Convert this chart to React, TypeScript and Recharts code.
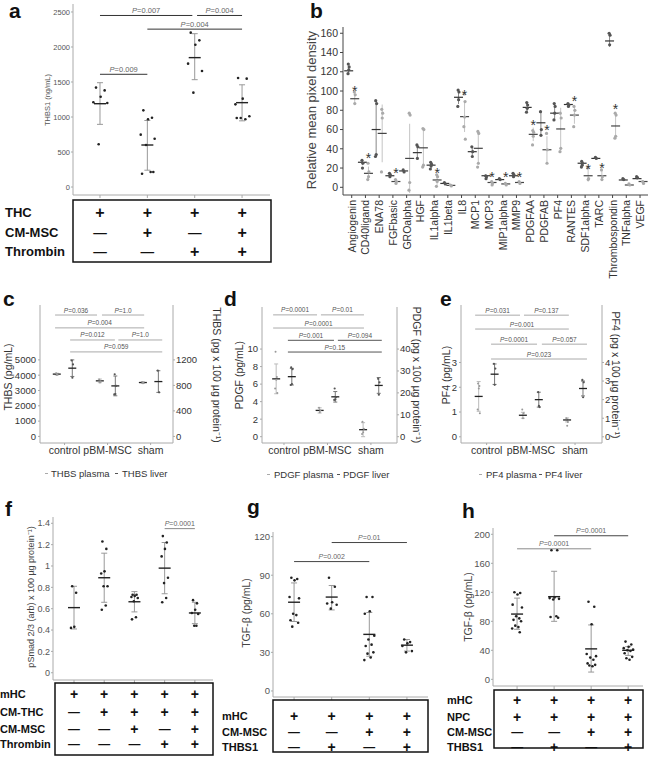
import React from 'react'
import { ComposedChart, Scatter, XAxis, YAxis, ErrorBar, ReferenceLine } from 'recharts'

const FONT = '"Liberation Sans", Arial, Helvetica, sans-serif'

// jitter pattern for dot plots (horizontal spread only)
const JITTER = [-0.12, 0.14, 0.02, -0.2, 0.22, -0.04, 0.1, -0.16, 0.18, -0.08, 0.06, -0.22, 0.12]

// ---- panel a: THBS1 (ng/mL)
const aPts = [
  [1420, 1380, 1290, 1210, 1200, 610],
  [1095, 990, 967, 748, 690, 600, 214, 190, 214],
  [2205, 2095, 2033, 1762, 1657, 1348],
  [1557, 1548, 1262, 1181, 1010, 986, 967, 986],
]
const aMean = [1190, 600, 1848, 1205]
const aSD = [[895, 1490], [240, 950], [1533, 2190], [945, 1460]]
const aTicks = [0, 500, 1000, 1500, 2000, 2500]
const aSig = [
  { a: 1, b: 2.95, y: 2450, p: '0.007' },
  { a: 3.05, b: 4, y: 2450, p: '0.004' },
  { a: 2, b: 4, y: 2255, p: '0.004' },
  { a: 1, b: 2, y: 1610, p: '0.009' },
]
const aRowLabels = ['THC', 'CM-MSC', 'Thrombin']
const aRowSigns = ['++++', '-+-+', '--++']

// ---- panel b: cytokine array
const bNames = ['Angiogenin', 'CD40ligand', 'ENA78', 'FGFbasic', 'GROalpha', 'HGF', 'IL1alpha', 'IL1beta', 'IL8', 'MCP1', 'MCP3',
  'MIP1alpha', 'MMP9', 'PDGFAA', 'PDGFAB', 'PF4', 'RANTES', 'SDF1alpha', 'TARC', 'Thrombospondin', 'TNFalpha', 'VEGF']
const bDarkPts = [[128, 125, 122, 118], [28, 25, 20], [90, 87, 34, 32], [14.5, 13, 11], [18, 16], [44, 42, 30], [26, 24, 22, 19],
  [5, 3.5], [101, 99, 91, 84], [42, 37, 32], [12, 11, 9], [9, 8], [14.5, 13, 11], [88, 85.5, 82, 78], [78.6, 60, 54],
  [87, 84, 77, 70], [87, 85.5, 84], [27, 25, 23, 21], [31, 30], [160, 158, 148], [9, 8], [11, 10]]
const bDarkMean = [121, 26, 60, 12, 17, 36, 23, 4, 93.5, 37, 12, 8, 12, 83, 67, 77, 86, 25, 30, 152, 7.6, 9]
const bDarkSD = [4, 3, 28, 1.5, 1, 6, 3, 1, 7, 4, 1.5, 1, 1.5, 4, 12, 7, 1.5, 2.5, 0.8, 6, 1, 1]
const bLightPts = [[99, 96, 87], [25, 16, 11, 8], [81, 77, 72, 16], [8, 6, 4], [77, 75, 5, -3], [61, 60, 23, 21], [13, 11, 6, 1],
  [2.4, 1.4], [97, 89, 73, 63, 50], [58, 56, 25, 21], [6, 4, 2.4], [4, 2.4], [6, 4], [59, 57, 53, 44], [56, 39, 25],
  [77, 72, 40.5, 37], [84, 80, 75, 63], [20, 9, 8], [18, 11, 8], [77, 75, 53, 51], [3.5, 2.4], [6, 4]]
const bLightMean = [92, 14.5, 56, 6, 30, 41, 7.6, 2, 73.4, 40.5, 5, 3.5, 5, 55, 39, 60.6, 75, 12, 12, 63.7, 2.4, 6]
const bLightSD = [6, 7, 30, 1.5, 36, 18, 5, 0.7, 16, 17, 2, 1, 1.5, 7, 14, 22, 9, 6, 5, 12, 0.7, 1.5]
const bStarY = [103, 34, null, 18, null, null, 18, null, 99, null, 14, 14, 14, 68, 63, null, 93, 22, 23, 84, null, null]
const bTicks = [0, 20, 40, 60, 80, 100, 120, 140, 160]

// ---- panels c-e: plasma (left axis) and liver (right axis)
const groupNames = ['control', 'pBM-MSC', 'sham']

const cPlasmaPts = [[4120, 4060, 4020], [3720, 3600, 3520], [3560, 3500, 3480]]
const cPlasmaMean = [4070, 3630, 3520]
const cPlasmaSD = [60, 120, 50]
const cLiverPts = [[1190, 1128, 920], [975, 792, 665, 658], [1032, 691]]
const cLiverMean = [1070, 792, 860]
const cLiverSD = [130, 155, 170]
const cSig = [
  { a: 0.78, b: 1.755, y: 7930, p: '0.036' },
  { a: 1.87, b: 2.85, y: 7930, p: '1.0' },
  { a: 0.78, b: 2.85, y: 7090, p: '0.004' },
  { a: 1.13, b: 2.17, y: 6300, p: '0.012' },
  { a: 2.25, b: 3.27, y: 6300, p: '1.0' },
  { a: 1.13, b: 3.27, y: 5520, p: '0.059' },
]

const dPlasmaPts = [[9.7, 6.8, 6.5, 5.5, 5.0], [3.3, 3.0, 2.8], [1.7, 0.9, 0.5, 0.3]]
const dPlasmaMean = [6.6, 3.0, 0.8]
const dPlasmaSD = [1.7, 0.3, 0.8]
const dLiverPts = [[31.6, 30.8, 24, 23.6], [22, 18, 17, 16.8], [26.4, 24.8, 19.2]]
const dLiverMean = [27.4, 18.2, 23.4]
const dLiverSD = [3.8, 2.4, 3.6]
const dSig = [
  { a: 0.75, b: 1.76, y: 13.9, p: '0.0001' },
  { a: 1.85, b: 2.84, y: 13.9, p: '0.01' },
  { a: 0.75, b: 2.84, y: 12.4, p: '0.0001' },
  { a: 1.09, b: 2.15, y: 11.0, p: '0.001', dark: true },
  { a: 2.24, b: 3.25, y: 11.0, p: '0.094', dark: true },
  { a: 1.09, b: 3.25, y: 9.66, p: '0.15', dark: true },
]

const ePlasmaPts = [[2.15, 2.05, 1.95, 1.1, 0.95], [1.1, 0.95, 0.75], [0.75, 0.6, 0.45]]
const ePlasmaMean = [1.63, 0.87, 0.68]
const ePlasmaSD = [0.6, 0.12, 0.08]
const eLiverPts = [[3.93, 3.67, 2.8], [2.4, 1.6, 1.67], [3.06, 2.93, 2.13]]
const eLiverMean = [3.37, 2.0, 2.6]
const eLiverSD = [0.55, 0.4, 0.4]
const eSig = [
  { a: 0.74, b: 1.755, y: 4.91, p: '0.031' },
  { a: 1.845, b: 2.86, y: 4.91, p: '0.137' },
  { a: 0.74, b: 2.86, y: 4.35, p: '0.001' },
  { a: 1.1, b: 2.14, y: 3.74, p: '0.0001' },
  { a: 2.25, b: 3.27, y: 3.74, p: '0.057' },
  { a: 1.1, b: 3.27, y: 3.14, p: '0.023' },
]

// ---- panel f: pSmad 2/3
const fPts = [
  [0.81, 0.75, 0.43, 0.42],
  [1.23, 1.16, 0.95, 0.93, 0.81, 0.81, 0.63, 0.59],
  [0.73, 0.73, 0.72, 0.71, 0.70, 0.67, 0.52, 0.50],
  [1.28, 1.22, 1.16, 1.09, 0.89, 0.84, 0.70, 0.66],
  [0.68, 0.65, 0.59, 0.56, 0.55, 0.44, 0.44],
]
const fMean = [0.61, 0.89, 0.665, 0.98, 0.56]
const fSD = [[0.41, 0.81], [0.66, 1.12], [0.57, 0.76], [0.74, 1.22], [0.46, 0.66]]
const fTicks = [0, 0.2, 0.4, 0.6, 0.8, 1.0, 1.2, 1.4]
const fSig = [{ a: 4, b: 5, y: 1.35, p: '0.0001' }]
const fRowLabels = ['mHC', 'CM-THC', 'CM-MSC', 'Thrombin']
const fRowSigns = ['+++++', '-++++', '--+-+', '---++']

// ---- panel g: TGF-beta
const gPts = [
  [88, 87, 86, 73, 72, 60, 59, 55, 53, 50],
  [88, 81, 69, 68, 67, 64],
  [73, 73, 62, 60, 43, 40, 36, 35, 30, 29, 26, 24],
  [40, 38, 37, 35, 31, 30],
]
const gMean = [69, 73, 44, 35.6]
const gSD = [[54, 84], [63, 82], [27, 61], [31, 40]]
const gTicks = [0, 30, 60, 90, 120]
const gSig = [
  { a: 1, b: 3, y: 100.6, p: '0.002' },
  { a: 2, b: 4, y: 115.4, p: '0.01' },
]
const gRowLabels = ['mHC', 'CM-MSC', 'THBS1']
const gRowSigns = ['++++', '--++', '-+-+']

// ---- panel h: TGF-beta with NPC
const hPts = [
  [120, 119, 117, 103, 99, 87, 84, 82, 80, 74, 72, 70, 65],
  [178, 178, 113, 112, 111, 110, 87, 86, 85],
  [107, 100, 76, 35, 32, 30, 27, 22, 20, 19, 18],
  [52, 48, 45, 43, 41, 40, 39, 36, 31, 29, 27],
]
const hMean = [90, 114, 42, 40]
const hSD = [[69, 112], [80, 149], [10, 75], [33, 45]]
const hTicks = [0, 40, 80, 120, 160, 200]
const hSig = [
  { a: 1, b: 3, y: 180, p: '0.0001', c: '#8a8a8a' },
  { a: 2, b: 4, y: 198, p: '0.0001' },
]
const hRowLabels = ['mHC', 'NPC', 'CM-MSC', 'THBS1']
const hRowSigns = ['++++', '++++', '--++', '-+-+']

type Geo = { ax: number; rx: number; top: number; bot: number; yW: number; yW2: number; xH: number; xd: [number, number] }

const geoA: Geo = { ax: 73, rx: 270, top: 4, bot: 195, yW: 30, yW2: 0, xH: 5, xd: [0.43, 4.59] }
const geoB: Geo = { ax: 343, rx: 648, top: 27, bot: 195, yW: 30, yW2: 0, xH: 100, xd: [0.366, 22.58] }
const geoC: Geo = { ax: 40, rx: 173, top: 305, bot: 443, yW: 40, yW2: 32, xH: 20, xd: [0.43, 3.52] }
const geoD: Geo = { ax: 262, rx: 397, top: 307, bot: 443, yW: 26, yW2: 26, xH: 20, xd: [0.494, 3.6] }
const geoE: Geo = { ax: 461, rx: 602, top: 305, bot: 443, yW: 20, yW2: 20, xH: 20, xd: [0.42, 3.61] }
const geoF: Geo = { ax: 53, rx: 213, top: 517, bot: 680, yW: 26, yW2: 0, xH: 5, xd: [0.305, 5.6] }
const geoG: Geo = { ax: 273, rx: 428, top: 532, bot: 697, yW: 26, yW2: 0, xH: 5, xd: [0.44, 4.56] }
const geoH: Geo = { ax: 493, rx: 643, top: 528, bot: 686, yW: 26, yW2: 0, xH: 5, xd: [0.35, 4.4] }

const px = (g: Geo, x: number) => g.ax + ((x - g.xd[0]) / (g.xd[1] - g.xd[0])) * (g.rx - g.ax)
const boxStyle = (g: Geo): React.CSSProperties => ({ position: 'absolute', left: g.ax - g.yW, top: g.top })
const chartW = (g: Geo) => g.yW + g.rx - g.ax + g.yW2
const chartH = (g: Geo) => g.bot - g.top + g.xH
const NOMARGIN = { top: 0, right: 0, bottom: 0, left: 0 }

const meanShape = (half: number, color: string, sw: number) => (p: any) =>
  <line x1={p.cx - half} x2={p.cx + half} y1={p.cy} y2={p.cy} stroke={color} strokeWidth={sw} />
const dotShape = (r: number, color: string) => (p: any) => <circle cx={p.cx} cy={p.cy} r={r} fill={color} />

function PLabel(props: any) {
  const vb = props.viewBox || { x: 0, y: 0, width: 0 }
  return (
    <text x={vb.x + (vb.width || 0) / 2} y={vb.y - 2.5} textAnchor="middle" fontSize={props.size} fill={props.color}>
      <tspan fontStyle="italic">P</tspan>={props.text}
    </text>
  )
}

function DotPanel(p: {
  geo: Geo; yd: [number, number]; yTicks: number[]; pts: number[][]; mean: number[]; sd: number[][];
  sig: any[]; spread: number; tickFont: number; sigFont: number; sigColor: string; meanHalf: number
}) {
  const centers = p.mean.map((_, i) => i + 1)
  const dots = p.pts.flatMap((grp, i) => grp.map((v, j) => ({ x: i + 1 + JITTER[j % JITTER.length] * p.spread, y: v })))
  const means = p.mean.map((m, i) => ({ x: i + 1, y: m, err: [m - p.sd[i][0], p.sd[i][1] - m] }))
  return (
    <div style={boxStyle(p.geo)}>
      <ComposedChart width={chartW(p.geo)} height={chartH(p.geo)} margin={NOMARGIN}>
        <XAxis type="number" dataKey="x" domain={p.geo.xd} ticks={centers} tickFormatter={() => ''} tickSize={3}
          stroke="#aaa" height={p.geo.xH} allowDataOverflow />
        <YAxis type="number" dataKey="y" domain={p.yd} ticks={p.yTicks} width={p.geo.yW} tickSize={2} tickMargin={1}
          stroke="#aaa" tick={{ fontSize: p.tickFont, fill: '#555' }} allowDataOverflow />
        {p.sig.map((s, i) => (
          <ReferenceLine key={'sig' + i} segment={[{ x: s.a, y: s.y }, { x: s.b, y: s.y }]} stroke={s.c || p.sigColor}
            strokeWidth={1} ifOverflow="visible" label={<PLabel text={s.p} size={p.sigFont} color="#666" />} />
        ))}
        <Scatter data={means} dataKey="y" isAnimationActive={false} shape={meanShape(p.meanHalf, '#222', 1.4)}>
          <ErrorBar dataKey="err" direction="y" width={3} stroke="#999" strokeWidth={1} isAnimationActive={false} />
        </Scatter>
        <Scatter data={dots} dataKey="y" isAnimationActive={false} shape={dotShape(1.3, '#222')} />
      </ComposedChart>
    </div>
  )
}

function BPanel() {
  const g = geoB
  const off = 0.22
  const pts = (arr: number[][], sign: number) =>
    arr.flatMap((grp, i) => grp.map((v, j) => ({ x: i + 1 + sign * off + JITTER[j % JITTER.length] * 0.25, y: v })))
  const means = (m: number[], sd: number[], sign: number) =>
    m.map((v, i) => ({ x: i + 1 + sign * off, y: v, err: sd[i] }))
  const stars = bStarY.flatMap((v, i) => (v == null ? [] : [{ x: i + 1 + off, y: v }]))
  const tick = (t: any) => (
    <text x={t.x} y={t.y} transform={`rotate(-90 ${t.x} ${t.y})`} textAnchor="end" dominantBaseline="central"
      fontSize={10.5} fill="#333">{bNames[t.payload.value - 1]}</text>
  )
  return (
    <div style={boxStyle(g)}>
      <ComposedChart width={chartW(g)} height={chartH(g)} margin={NOMARGIN}>
        <XAxis type="number" dataKey="x" domain={g.xd} ticks={bNames.map((_, i) => i + 1)} tick={tick} tickSize={3}
          stroke="#444" height={g.xH} interval={0} allowDataOverflow />
        <YAxis type="number" dataKey="y" domain={[-8, 166.5]} ticks={bTicks} width={g.yW} tickSize={3} stroke="#444"
          tick={{ fontSize: 10.5, fill: '#333' }} allowDataOverflow />
        <Scatter data={means(bDarkMean, bDarkSD, -1)} dataKey="y" isAnimationActive={false} shape={meanShape(4.5, '#333', 1.2)}>
          <ErrorBar dataKey="err" direction="y" width={0} stroke="#888" strokeWidth={1} isAnimationActive={false} />
        </Scatter>
        <Scatter data={means(bLightMean, bLightSD, 1)} dataKey="y" isAnimationActive={false} shape={meanShape(4.5, '#444', 1.2)}>
          <ErrorBar dataKey="err" direction="y" width={0} stroke="#c4c4c4" strokeWidth={1} isAnimationActive={false} />
        </Scatter>
        <Scatter data={pts(bDarkPts, -1)} dataKey="y" isAnimationActive={false} shape={dotShape(1.6, '#555')} />
        <Scatter data={pts(bLightPts, 1)} dataKey="y" isAnimationActive={false} shape={dotShape(1.6, '#aaa')} />
        <Scatter data={stars} dataKey="y" isAnimationActive={false}
          shape={(p: any) => <text x={p.cx} y={p.cy + 8} textAnchor="middle" fontSize={14} fill="#333">*</text>} />
      </ComposedChart>
    </div>
  )
}

function DualPanel(p: {
  geo: Geo; ydL: [number, number]; ydR: [number, number]; ticksL: number[]; ticksR: number[];
  plasmaPts: number[][]; plasmaMean: number[]; plasmaSD: number[];
  liverPts: number[][]; liverMean: number[]; liverSD: number[]; sig: any[]
}) {
  const off = 0.18
  const pts = (arr: number[][], sign: number) =>
    arr.flatMap((grp, i) => grp.map((v, j) => ({ x: i + 1 + sign * off + JITTER[j % JITTER.length] * 0.12, y: v })))
  const means = (m: number[], sd: number[], sign: number) => m.map((v, i) => ({ x: i + 1 + sign * off, y: v, err: sd[i] }))
  const g = p.geo
  return (
    <div style={boxStyle(g)}>
      <ComposedChart width={chartW(g)} height={chartH(g)} margin={NOMARGIN}>
        <XAxis type="number" dataKey="x" domain={g.xd} ticks={[1, 2, 3]} tickFormatter={(v: number) => groupNames[v - 1]}
          tickSize={2} stroke="#aaa" tick={{ fontSize: 10.5, fill: '#333' }} height={g.xH} interval={0} allowDataOverflow />
        <YAxis yAxisId="L" type="number" dataKey="y" domain={p.ydL} ticks={p.ticksL} width={g.yW} tickSize={2}
          tickMargin={2} stroke="#aaa" tick={{ fontSize: 9.5, fill: '#333' }} allowDataOverflow />
        <YAxis yAxisId="R" orientation="right" type="number" dataKey="y" domain={p.ydR} ticks={p.ticksR} width={g.yW2}
          tickSize={2} tickMargin={1} stroke="#aaa" tick={{ fontSize: 9.5, fill: '#333' }} allowDataOverflow />
        {p.sig.map((s, i) => (
          <ReferenceLine key={'sig' + i} yAxisId="L" segment={[{ x: s.a, y: s.y }, { x: s.b, y: s.y }]}
            stroke={s.dark ? '#555' : '#aaa'} strokeWidth={1} ifOverflow="visible"
            label={<PLabel text={s.p} size={6.5} color="#555" />} />
        ))}
        <Scatter yAxisId="L" data={means(p.plasmaMean, p.plasmaSD, -1)} dataKey="y" isAnimationActive={false}
          shape={meanShape(4, '#222', 1.3)}>
          <ErrorBar dataKey="err" direction="y" width={2} stroke="#bbb" strokeWidth={1} isAnimationActive={false} />
        </Scatter>
        <Scatter yAxisId="R" data={means(p.liverMean, p.liverSD, 1)} dataKey="y" isAnimationActive={false}
          shape={meanShape(4, '#222', 1.3)}>
          <ErrorBar dataKey="err" direction="y" width={2} stroke="#777" strokeWidth={1} isAnimationActive={false} />
        </Scatter>
        <Scatter yAxisId="L" data={pts(p.plasmaPts, -1)} dataKey="y" isAnimationActive={false} shape={dotShape(1, '#999')} />
        <Scatter yAxisId="R" data={pts(p.liverPts, 1)} dataKey="y" isAnimationActive={false} shape={dotShape(1.1, '#555')} />
      </ComposedChart>
    </div>
  )
}

function SignTable(p: { geo: Geo; box: [number, number, number, number]; labelX: number; rowY: number[];
  labels: string[]; signs: string[]; labelSize: number; signSize: number }) {
  const [x, y, w, h] = p.box
  return (
    <g>
      <rect x={x} y={y} width={w} height={h} fill="none" stroke="#111" strokeWidth={1.5} />
      {p.labels.map((l, r) => (
        <text key={'l' + r} x={p.labelX} y={p.rowY[r]} dominantBaseline="central" fontSize={p.labelSize}
          fontWeight="bold" fill="#111">{l}</text>
      ))}
      {p.signs.map((row, r) => row.split('').map((s, c) => (
        <text key={r + '-' + c} x={px(p.geo, c + 1)} y={p.rowY[r]} textAnchor="middle" dominantBaseline="central"
          fontSize={s === '+' ? p.signSize : p.signSize * 0.85} fontWeight="bold" fill="#111">{s === '+' ? '+' : '—'}</text>
      )))}
    </g>
  )
}

function VLabel(p: { x: number; y: number; text: string; size: number; angle: number; color?: string }) {
  return (
    <text x={p.x} y={p.y} transform={`rotate(${p.angle} ${p.x} ${p.y})`} textAnchor="middle" fontSize={p.size}
      fill={p.color || '#333'}>{p.text}</text>
  )
}

function Legend2(p: { d1: number; x1: number; d2: number; x2: number; y: number; t1: string; t2: string }) {
  return (
    <g fontSize={9.5} fill="#333">
      <line x1={p.d1} x2={p.d1 + 3} y1={p.y - 3.5} y2={p.y - 3.5} stroke="#aaa" strokeWidth={1} />
      <text x={p.x1} y={p.y}>{p.t1}</text>
      <line x1={p.d2} x2={p.d2 + 3} y1={p.y - 3.5} y2={p.y - 3.5} stroke="#555" strokeWidth={1} />
      <text x={p.x2} y={p.y}>{p.t2}</text>
    </g>
  )
}

export default function App() {
  const letter = { fontSize: 21, fontWeight: 'bold' as const, fill: '#111' }
  return (
    <div style={{ position: 'absolute', left: 0, top: 0, width: 650, height: 759, background: '#fff', fontFamily: FONT, overflow: 'hidden' }}>
      <DotPanel geo={geoA} yd={[-114, 2614]} yTicks={aTicks} pts={aPts} mean={aMean} sd={aSD} sig={aSig}
        spread={0.7} tickFont={7.5} sigFont={7.5} sigColor="#333" meanHalf={6} />
      <BPanel />
      <DualPanel geo={geoC} ydL={[-430, 8585]} ydR={[-103.2, 2060.4]} ticksL={[0, 1000, 2000, 3000, 4000, 5000]}
        ticksR={[0, 200, 400, 600, 800, 1000, 1200]} plasmaPts={cPlasmaPts} plasmaMean={cPlasmaMean} plasmaSD={cPlasmaSD}
        liverPts={cLiverPts} liverMean={cLiverMean} liverSD={cLiverSD} sig={cSig} />
      <DualPanel geo={geoD} ydL={[-0.72, 14.8]} ydR={[-2.88, 59.2]} ticksL={[0, 2, 4, 6, 8, 10]}
        ticksR={[0, 10, 20, 30, 40]} plasmaPts={dPlasmaPts} plasmaMean={dPlasmaMean} plasmaSD={dPlasmaSD}
        liverPts={dLiverPts} liverMean={dLiverMean} liverSD={dLiverSD} sig={dSig} />
      <DualPanel geo={geoE} ydL={[-0.25, 5.32]} ydR={[-0.333, 7.093]} ticksL={[0, 1, 2, 3]}
        ticksR={[0, 1, 2, 3, 4]} plasmaPts={ePlasmaPts} plasmaMean={ePlasmaMean} plasmaSD={ePlasmaSD}
        liverPts={eLiverPts} liverMean={eLiverMean} liverSD={eLiverSD} sig={eSig} />
      <DotPanel geo={geoF} yd={[-0.068, 1.459]} yTicks={fTicks} pts={fPts} mean={fMean} sd={fSD} sig={fSig}
        spread={0.5} tickFont={9} sigFont={7} sigColor="#888" meanHalf={6} />
      <DotPanel geo={geoG} yd={[-4.7, 123.6]} yTicks={gTicks} pts={gPts} mean={gMean} sd={gSD} sig={gSig}
        spread={0.6} tickFont={9.5} sigFont={7} sigColor="#444" meanHalf={6} />
      <DotPanel geo={geoH} yd={[-9.2, 208.7]} yTicks={hTicks} pts={hPts} mean={hMean} sd={hSD} sig={hSig}
        spread={0.6} tickFont={9.5} sigFont={7} sigColor="#444" meanHalf={6} />

      <svg width={650} height={759} style={{ position: 'absolute', left: 0, top: 0, pointerEvents: 'none' }}>
        <text x={9} y={18} {...letter}>a</text>
        <text x={310} y={18} {...letter}>b</text>
        <text x={3} y={306} {...letter}>c</text>
        <text x={224} y={306} {...letter}>d</text>
        <text x={440} y={306} {...letter}>e</text>
        <text x={5} y={516} {...letter}>f</text>
        <text x={247} y={514} {...letter}>g</text>
        <text x={462} y={518} {...letter}>h</text>

        <VLabel x={50} y={100} text="THBS1 (ng/mL)" size={7.5} angle={-90} color="#555" />
        <VLabel x={316} y={110} text="Relative mean pixel density" size={13} angle={-90} color="#444" />
        <VLabel x={12} y={377} text="THBS (pg/mL)" size={10.5} angle={-90} />
        <VLabel x={213} y={375} text="THBS (pg x 100 µg protein⁻¹)" size={10.5} angle={90} />
        <VLabel x={243} y={375} text="PDGF (pg/mL)" size={10.5} angle={-90} />
        <VLabel x={413} y={375} text="PDGF (pg x 100 µg protein⁻¹)" size={10.5} angle={90} />
        <VLabel x={450} y={375} text="PF4 (pg/mL)" size={10.5} angle={-90} />
        <VLabel x={612} y={375} text="PF4 (pg x 100 µg protein⁻¹)" size={10.5} angle={90} />
        <VLabel x={34} y={597} text="pSmad 2/3 (arb) x 100 µg protein⁻¹)" size={9} angle={-90} color="#444" />
        <VLabel x={250} y={613} text="TGF-β (pg/mL)" size={10.5} angle={-90} color="#444" />
        <VLabel x={472} y={607} text="TGF-β (pg/mL)" size={10.5} angle={-90} color="#444" />

        <Legend2 d1={45} x1={51} d2={115} x2={122} y={477} t1="THBS plasma" t2="THBS liver" />
        <Legend2 d1={267} x1={274} d2={337} x2={343} y={478} t1="PDGF plasma" t2="PDGF liver" />
        <Legend2 d1={479} x1={486} d2={539} x2={545} y={478} t1="PF4 plasma" t2="PF4 liver" />

        <SignTable geo={geoA} box={[73, 200, 198, 62]} labelX={5} rowY={[212, 232, 251]} labels={aRowLabels}
          signs={aRowSigns} labelSize={13} signSize={16} />
        <SignTable geo={geoF} box={[55, 683, 158, 72]} labelX={0} rowY={[694, 712, 729, 744]} labels={fRowLabels}
          signs={fRowSigns} labelSize={11} signSize={14} />
        <SignTable geo={geoG} box={[273, 700, 155, 52]} labelX={222} rowY={[716, 732, 747]} labels={gRowLabels}
          signs={gRowSigns} labelSize={11} signSize={14} />
        <SignTable geo={geoH} box={[494, 690, 149, 58]} labelX={447} rowY={[700, 717, 732, 747]} labels={hRowLabels}
          signs={hRowSigns} labelSize={11} signSize={14} />
      </svg>
    </div>
  )
}
